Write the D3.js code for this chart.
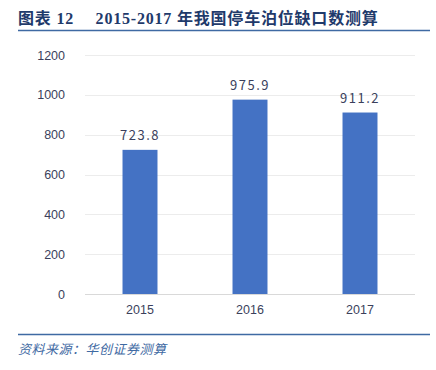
<!DOCTYPE html>
<html><head><meta charset="utf-8">
<script src="https://cdn.jsdelivr.net/npm/d3@7"></script>
<style>body{margin:0;background:#fff}</style>
</head><body>
<svg id="c" width="436" height="370"></svg>
<script>
const categories = ["2015", "2016", "2017"];
const values = [723.8, 975.9, 911.2];
const valueLabels = ["723.8", "975.9", "911.2"];
const yTicks = [0, 200, 400, 600, 800, 1000, 1200];
const title = "图表 12\u2003 2015-2017 年我国停车泊位缺口数测算";
const source = "资料来源：华创证券测算";

(function () {
const svg = d3.select("#c");
const mL = 85, mR = 415, mT = 55, mB = 294;
const x = d3.scaleBand().domain(categories).range([mL, mR]).paddingInner(0.682).paddingOuter(0.341);
const y = d3.scaleLinear().domain([0, 1200]).range([mB, mT]);

// title
svg.append("text").attr("x", 18).attr("y", 24)
  .attr("font-family", "'Liberation Serif','Noto Sans CJK SC'")
  .attr("font-weight", "bold").attr("font-size", 16).attr("fill", "#1f3a6b")
  .attr("letter-spacing", 0.8)
  .attr("xml:space", "preserve")
  .text(title);
svg.append("line").attr("x1", 18).attr("x2", 430).attr("y1", 30.5).attr("y2", 30.5)
  .attr("stroke", "#3f6aa3").attr("stroke-width", 1.5);

// grid
svg.append("g").selectAll("line").data(yTicks).join("line")
  .attr("x1", mL).attr("x2", mR)
  .attr("y1", d => Math.round(y(d)) + 0.5).attr("y2", d => Math.round(y(d)) + 0.5)
  .attr("stroke", d => d === 0 ? "#d9d9d9" : "#ececec").attr("stroke-width", 1);

// y axis
const ya = svg.append("g").attr("transform", `translate(${mL},0)`)
  .call(d3.axisLeft(y).tickValues(yTicks).tickFormat(d3.format("d")).tickSize(0).tickPadding(20));
ya.select(".domain").remove();
ya.selectAll("text").attr("font-family", "'Liberation Sans',Arial,sans-serif")
  .attr("font-size", 12.5).attr("fill", "#3b3f5c");

// x axis
const xa = svg.append("g").attr("transform", `translate(0,${mB})`)
  .call(d3.axisBottom(x).tickSize(0).tickPadding(11));
xa.select(".domain").remove();
xa.selectAll("text").attr("font-family", "'Liberation Sans',Arial,sans-serif")
  .attr("font-size", 12.5).attr("fill", "#3b3f5c");

// bars
svg.append("g").selectAll("rect").data(values).join("rect")
  .attr("x", (d, i) => x(categories[i])).attr("width", x.bandwidth())
  .attr("y", d => y(d)).attr("height", d => y(0) - y(d))
  .attr("fill", "#4472c4");

// value labels
svg.append("g").selectAll("text").data(values).join("text")
  .attr("x", (d, i) => x(categories[i]) + x.bandwidth() / 2)
  .attr("y", d => y(d) - 10)
  .attr("text-anchor", "middle")
  .attr("font-family", "'Noto Sans CJK SC',sans-serif").attr("font-size", 13)
  .attr("letter-spacing", 1.5).attr("fill", "#3b3f5c")
  .text((d, i) => valueLabels[i]);

// bottom
svg.append("line").attr("x1", 18).attr("x2", 430).attr("y1", 334.5).attr("y2", 334.5)
  .attr("stroke", "#3f6aa3").attr("stroke-width", 1.5);
svg.append("text").attr("x", 18).attr("y", 354)
  .attr("font-family", "'Noto Sans CJK SC',sans-serif").attr("font-style", "italic")
  .attr("font-size", 13).attr("letter-spacing", 0.5).attr("fill", "#3f6aa3")
  .text(source);
})();
</script>
</body></html>
